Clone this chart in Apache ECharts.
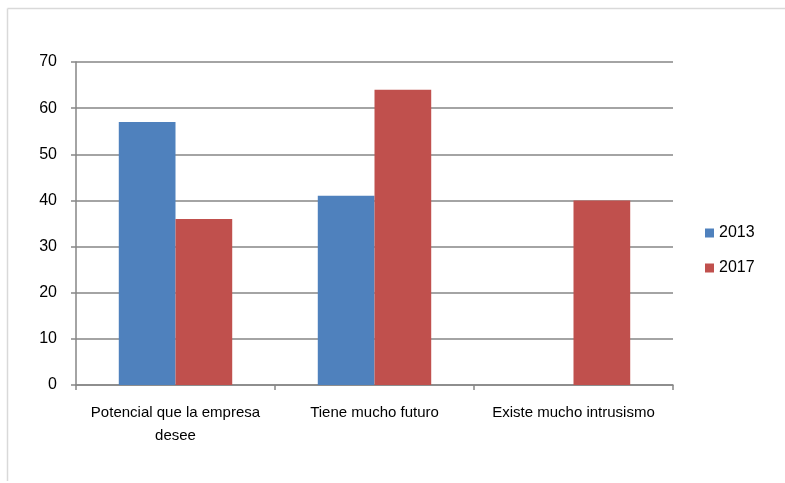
<!DOCTYPE html>
<html lang="es">
<head>
    <meta charset="UTF-8">
    <title>Chart</title>
    <script src="https://cdn.jsdelivr.net/npm/echarts@6/dist/echarts.min.js"></script>
    <style>
        html, body { margin: 0; padding: 0; background: #fff; }
        #container { width: 785px; height: 483px; }
    </style>
</head>
<body>
<div id="container"></div>
<script type="text/javascript">
    // datos
    var categorias = ['Potencial que la empresa\ndesee', 'Tiene mucho futuro', 'Existe mucho intrusismo'];
    var serie2013 = [57, 41, null];
    var serie2017 = [36, 64, 40];
    var ticksY = [0, 10, 20, 30, 40, 50, 60, 70];

    var dom = document.getElementById('container');
    var myChart = echarts.init(dom, null, { renderer: 'canvas' });

    var fuente = '"Liberation Sans", Arial, sans-serif';

    var option = {
        animation: false,
        backgroundColor: '#fff',
        textStyle: { fontFamily: fuente },
        graphic: [
            { type: 'line', shape: { x1: 7.5, y1: 8.5, x2: 785, y2: 8.5 }, style: { stroke: '#d9d9d9', lineWidth: 1.5 } },
            { type: 'line', shape: { x1: 7.5, y1: 8.5, x2: 7.5, y2: 481 }, style: { stroke: '#d9d9d9', lineWidth: 1.5 } }
        ],
        grid: { left: 76, right: 112, top: 62, bottom: 98, containLabel: false },
        legend: {
            orient: 'vertical',
            left: 700,
            top: 220,
            itemWidth: 9,
            itemHeight: 9,
            itemGap: 19,
            icon: 'rect',
            textStyle: { fontSize: 16, color: '#000', fontFamily: fuente },
            data: ['2013', '2017']
        },
        xAxis: {
            type: 'category',
            data: categorias,
            axisLine: { lineStyle: { color: '#868686', width: 1.5 } },
            axisTick: { show: true, length: 5, lineStyle: { color: '#868686', width: 1.5 } },
            axisLabel: { color: '#000', fontSize: 15, margin: 16, lineHeight: 23, interval: 0, fontFamily: fuente }
        },
        yAxis: {
            type: 'value',
            min: ticksY[0],
            max: ticksY[ticksY.length - 1],
            interval: 10,
            axisLine: { show: true, lineStyle: { color: '#868686', width: 1.5 } },
            axisTick: { show: true, length: 5, lineStyle: { color: '#868686', width: 1.5 } },
            axisLabel: { color: '#000', fontSize: 16, margin: 19, fontFamily: fuente },
            splitLine: { lineStyle: { color: '#868686', width: 1.5 } }
        },
        series: [
            {
                name: '2013',
                type: 'bar',
                data: serie2013,
                barGap: '0%',
                barCategoryGap: '43%',
                itemStyle: { color: '#4F81BD' }
            },
            {
                name: '2017',
                type: 'bar',
                data: serie2017,
                barGap: '0%',
                barCategoryGap: '43%',
                itemStyle: { color: '#C0504D' }
            }
        ]
    };

    myChart.setOption(option);
    window.addEventListener('resize', myChart.resize);
</script>
</body>
</html>
